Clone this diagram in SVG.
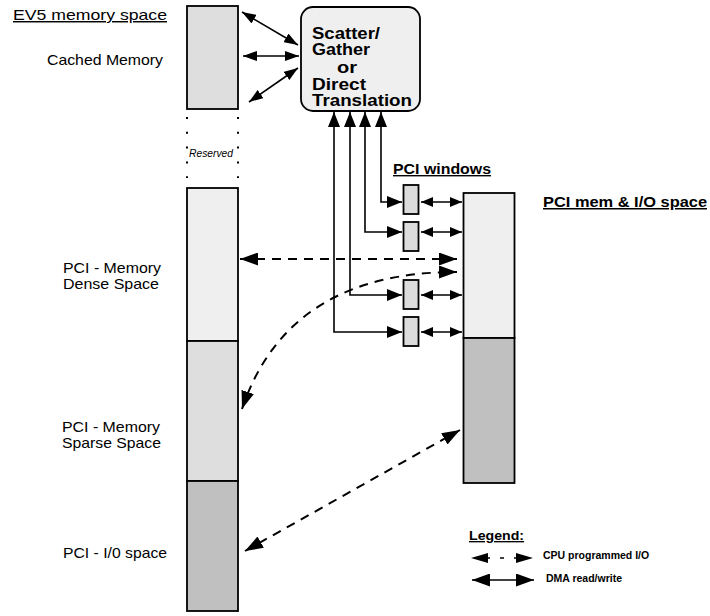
<svg xmlns="http://www.w3.org/2000/svg" width="710" height="616" viewBox="0 0 710 616">
<style>
text{font-family:"Liberation Sans",Arial,sans-serif;fill:#000}
.lbl{font-size:14.5px}
.b{font-weight:bold}
.u{text-decoration:underline}
.blk{stroke:#000;stroke-width:1.8}
.con{fill:none;stroke:#000;stroke-width:1.6}
.dash{fill:none;stroke:#000;stroke-width:2;stroke-dasharray:9 7}
</style>
<defs>
<marker id="ah" viewBox="0 0 14 10" refX="14" refY="5" markerWidth="14" markerHeight="10" markerUnits="userSpaceOnUse" orient="auto-start-reverse"><path d="M0,0 L14,5 L0,10 z" fill="#000"/></marker>
<marker id="ahS" viewBox="0 0 12 10" refX="12" refY="5" markerWidth="12" markerHeight="10" markerUnits="userSpaceOnUse" orient="auto-start-reverse"><path d="M0,0 L12,5 L0,10 z" fill="#000"/></marker>
<marker id="ahW" viewBox="0 0 15 12" refX="15" refY="6" markerWidth="15" markerHeight="12" markerUnits="userSpaceOnUse" orient="auto-start-reverse"><path d="M0,0 L15,6 L0,12 z" fill="#000"/></marker>
<marker id="ahD" viewBox="0 0 18 13" refX="18" refY="6.5" markerWidth="18" markerHeight="13" markerUnits="userSpaceOnUse" orient="auto-start-reverse"><path d="M0,0 L18,6.5 L0,13 z" fill="#000"/></marker>
</defs>

<g id="ev5-title"><text x="13" y="20" font-size="14.5" class="u" textLength="154" lengthAdjust="spacingAndGlyphs">EV5  memory space</text></g>

<g id="cached"><rect x="187" y="6" width="51" height="103" fill="#dedede" class="blk"/><text class="lbl" x="47" y="65" textLength="116" lengthAdjust="spacingAndGlyphs">Cached Memory</text></g>

<g id="reserved">
<line x1="187" y1="117" x2="187" y2="178" stroke="#000" stroke-width="2" stroke-dasharray="2 12.8"/>
<line x1="238" y1="117" x2="238" y2="178" stroke="#000" stroke-width="2" stroke-dasharray="2 12.8"/>
<text x="189" y="157" font-size="10.3" font-style="italic">Reserved</text>
</g>

<g id="dense"><rect x="187" y="188" width="51" height="153" fill="#efefef" class="blk"/><text class="lbl" x="63" y="272.5" textLength="98" lengthAdjust="spacingAndGlyphs">PCI - Memory</text><text class="lbl" x="63" y="288.5" textLength="96" lengthAdjust="spacingAndGlyphs">Dense Space</text></g>
<g id="sparse"><rect x="187" y="341" width="51" height="140" fill="#dedede" class="blk"/><text class="lbl" x="62" y="432" textLength="98" lengthAdjust="spacingAndGlyphs">PCI - Memory</text><text class="lbl" x="62" y="448" textLength="99" lengthAdjust="spacingAndGlyphs">Sparse Space</text></g>
<g id="io"><rect x="187" y="481" width="51" height="130" fill="#c0c0c0" class="blk"/><text class="lbl" x="63" y="558" textLength="104" lengthAdjust="spacingAndGlyphs">PCI - I/0 space</text></g>

<g id="sg-box">
<rect x="301" y="7" width="119" height="104" rx="12" fill="#efefef" class="blk"/>
<g class="b" font-size="16">
<text x="312" y="39" textLength="68" lengthAdjust="spacingAndGlyphs">Scatter/</text>
<text x="312" y="55" textLength="58" lengthAdjust="spacingAndGlyphs">Gather</text>
<text x="337" y="73" textLength="20" lengthAdjust="spacingAndGlyphs">or</text>
<text x="312" y="90" textLength="54" lengthAdjust="spacingAndGlyphs">Direct</text>
<text x="312" y="106" textLength="100" lengthAdjust="spacingAndGlyphs">Translation</text>
</g>
</g>

<g id="pci-windows-label"><text x="393" y="174" font-size="14" class="b u" textLength="98" lengthAdjust="spacingAndGlyphs">PCI windows</text></g>
<g id="win1"><rect x="403.5" y="185" width="15" height="29" fill="#dcdcdc" class="blk" stroke-width="1.5"/></g>
<g id="win2"><rect x="403.5" y="222" width="15" height="29" fill="#dcdcdc" class="blk" stroke-width="1.5"/></g>
<g id="win3"><rect x="403.5" y="280" width="15" height="29" fill="#dcdcdc" class="blk" stroke-width="1.5"/></g>
<g id="win4"><rect x="403.5" y="317" width="15" height="29" fill="#dcdcdc" class="blk" stroke-width="1.5"/></g>

<g id="pci-mem">
<rect x="463.5" y="193" width="51" height="145" fill="#efefef" class="blk"/>
<rect x="463.5" y="338" width="51" height="145" fill="#c0c0c0" class="blk"/>
<text x="543" y="207" font-size="15" class="b u" textLength="164" lengthAdjust="spacingAndGlyphs">PCI  mem &amp; I/O space</text>
</g>

<g id="connectors">
<line class="con" x1="242" y1="12" x2="298" y2="45" marker-start="url(#ah)" marker-end="url(#ah)"/>
<line class="con" x1="243" y1="56" x2="299" y2="56" marker-start="url(#ah)" marker-end="url(#ah)"/>
<line class="con" x1="249" y1="102" x2="298" y2="68" marker-start="url(#ah)" marker-end="url(#ah)"/>

<path class="con" d="M381,112 V202 H402" marker-start="url(#ahW)" marker-end="url(#ahW)"/>
<path class="con" d="M365,112 V232 H402" marker-start="url(#ahW)" marker-end="url(#ahW)"/>
<path class="con" d="M350,112 V295 H402" marker-start="url(#ahW)" marker-end="url(#ahW)"/>
<path class="con" d="M334,112 V332 H402" marker-start="url(#ahW)" marker-end="url(#ahW)"/>

<line class="con" x1="421" y1="202" x2="462" y2="202" marker-start="url(#ahS)" marker-end="url(#ahS)"/>
<line class="con" x1="421" y1="232" x2="462" y2="232" marker-start="url(#ahS)" marker-end="url(#ahS)"/>
<line class="con" x1="421" y1="295" x2="462" y2="295" marker-start="url(#ahS)" marker-end="url(#ahS)"/>
<line class="con" x1="421" y1="332" x2="462" y2="332" marker-start="url(#ahS)" marker-end="url(#ahS)"/>

<line class="dash" x1="240" y1="259" x2="457" y2="259" marker-start="url(#ahD)" marker-end="url(#ahD)"/>
<path class="dash" d="M242,409 Q288,272 457,272" marker-start="url(#ahD)" marker-end="url(#ahD)"/>
<line class="dash" x1="245" y1="551" x2="460" y2="430" marker-start="url(#ahD)" marker-end="url(#ahD)"/>
</g>

<g id="legend">
<text x="469" y="540" font-size="13.5" class="b u" textLength="55" lengthAdjust="spacingAndGlyphs">Legend:</text>
<path d="M471,558 L488,553 L488,563 z" fill="#000"/>
<line x1="486" y1="558" x2="490" y2="558" stroke="#000" stroke-width="1.5"/>
<line x1="500" y1="558" x2="504" y2="558" stroke="#000" stroke-width="1.5"/>
<line x1="514" y1="558" x2="518" y2="558" stroke="#000" stroke-width="1.5"/>
<path d="M533,558 L516,553 L516,563 z" fill="#000"/>
<text x="543" y="559" font-size="10.5" class="b">CPU programmed I/O</text>
<line x1="472" y1="580" x2="534" y2="580" stroke="#000" stroke-width="1.5" marker-start="url(#ahD)" marker-end="url(#ahD)"/>
<text x="546" y="582" font-size="10.5" class="b">DMA read/write</text>
</g>
</svg>
